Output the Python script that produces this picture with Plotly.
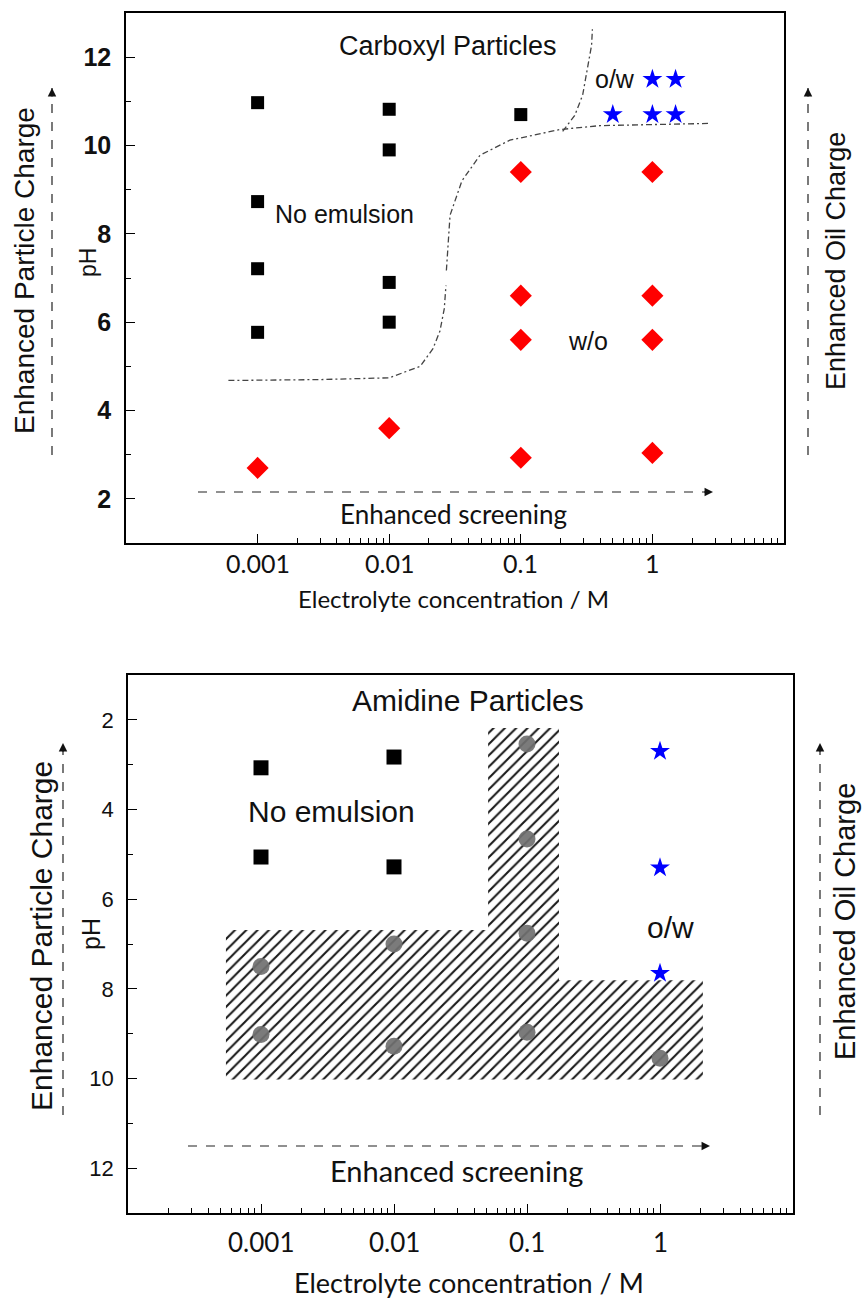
import math
import plotly.graph_objects as go

W, H = 862, 1300

# ---------------- data: Carboxyl particles (top) ----------------
carb_noem_x = [0.001, 0.001, 0.001, 0.001, 0.01, 0.01, 0.01, 0.01, 0.1]
carb_noem_ph = [10.97, 8.73, 7.21, 5.77, 10.82, 9.9, 6.9, 6.0, 10.7]

carb_wo_x = [0.001, 0.01, 0.1, 0.1, 0.1, 0.1, 1, 1, 1, 1]
carb_wo_ph = [2.7, 3.6, 9.4, 6.6, 5.6, 2.93, 9.4, 6.6, 5.6, 3.04]

carb_ow_x = [1, 1.5, 0.5, 1, 1.5]
carb_ow_ph = [11.5, 11.5, 10.7, 10.7, 10.7]

# boundary lines (dash-dot)
bound1_x = [0.0006, 0.003, 0.01, 0.0172, 0.0215, 0.0243, 0.0262, 0.027, None,
            0.0272, 0.029, 0.0357, 0.049, 0.0826, 0.197, 0.4, 1.0, 2.7]
bound1_ph = [4.68, 4.7, 4.74, 5.0, 5.4, 5.8, 6.3, 6.83, None,
             7.17, 8.42, 9.2, 9.78, 10.12, 10.36, 10.45, 10.48, 10.5]
bound2_x = [0.208, 0.257, 0.295, 0.322, 0.345, 0.35]
bound2_ph = [10.32, 10.68, 11.14, 11.77, 12.27, 12.63]

# ---------------- data: Amidine particles (bottom) ----------------
amid_noem_x = [0.001, 0.001, 0.01, 0.01]
amid_noem_ph = [3.07, 5.06, 2.83, 5.28]

amid_ow_x = [1, 1, 1]
amid_ow_ph = [2.7, 5.3, 7.65]

amid_mix_x = [0.001, 0.001, 0.01, 0.01, 0.1, 0.1, 0.1, 0.1, 1]
amid_mix_ph = [7.5, 9.02, 7.0, 9.28, 2.54, 4.66, 6.76, 8.97, 9.55]

hatch_x = [0.000545, 0.051, 0.051, 0.174, 0.174, 2.1, 2.1, 0.000545, 0.000545]
hatch_ph = [6.69, 6.69, 2.18, 2.18, 7.81, 7.81, 10.02, 10.02, 6.69]

major_x = [0.001, 0.01, 0.1, 1]
major_x_text = ["0.001", "0.01", "0.1", "1"]
ph_ticks = [2, 4, 6, 8, 10, 12]

minor_top_x = [m * d for d in [0.001, 0.01, 0.1, 1] for m in range(2, 10)]
minor_bot_x = [m * d for d in [0.0001, 0.001, 0.01, 0.1, 1] for m in range(2, 10)]
minor_ph = [3, 5, 7, 9, 11]

# ---------------- helpers ----------------
def px(x):
    return x / W

def py(y):
    return 1 - y / H

SANS = "Liberation Sans, Arial, sans-serif"
CAL = "Lato, Open Sans, sans-serif"
DASHDOT = "6px,3px,2px,3px"

fig = go.Figure()

# top traces
fig.add_trace(go.Scatter(x=bound1_x, y=bound1_ph, mode="lines", xaxis="x", yaxis="y",
                         line=dict(color="#444", width=1.3, dash=DASHDOT), connectgaps=False,
                         showlegend=False, hoverinfo="skip"))
fig.add_trace(go.Scatter(x=bound2_x, y=bound2_ph, mode="lines", xaxis="x", yaxis="y",
                         line=dict(color="#444", width=1.3, dash=DASHDOT),
                         showlegend=False, hoverinfo="skip"))
fig.add_trace(go.Scatter(x=carb_noem_x, y=carb_noem_ph, mode="markers", xaxis="x", yaxis="y",
                         marker=dict(symbol="square", size=13, color="black"), showlegend=False))
fig.add_trace(go.Scatter(x=carb_wo_x, y=carb_wo_ph, mode="markers", xaxis="x", yaxis="y",
                         marker=dict(symbol="diamond", size=17, color="#ff0000"), showlegend=False))
fig.add_trace(go.Scatter(x=carb_ow_x, y=carb_ow_ph, mode="markers", xaxis="x", yaxis="y",
                         marker=dict(symbol="star", size=15, color="#0000ff"), showlegend=False))

# bottom traces
fig.add_trace(go.Scatter(x=hatch_x, y=hatch_ph, mode="lines", xaxis="x2", yaxis="y2",
                         fill="toself", fillcolor="rgba(0,0,0,0)",
                         fillpattern=dict(shape="/", size=8, solidity=0.26, fgcolor="#000",
                                          fgopacity=0.9, bgcolor="rgba(255,255,255,0)"),
                         line=dict(width=0), showlegend=False, hoverinfo="skip"))
fig.add_trace(go.Scatter(x=amid_mix_x, y=amid_mix_ph, mode="markers", xaxis="x2", yaxis="y2",
                         marker=dict(symbol="circle", size=17, color="rgba(112,112,112,0.92)"),
                         showlegend=False))
fig.add_trace(go.Scatter(x=amid_noem_x, y=amid_noem_ph, mode="markers", xaxis="x2", yaxis="y2",
                         marker=dict(symbol="square", size=15, color="black"), showlegend=False))
fig.add_trace(go.Scatter(x=amid_ow_x, y=amid_ow_ph, mode="markers", xaxis="x2", yaxis="y2",
                         marker=dict(symbol="star", size=15, color="#0000ff"), showlegend=False))

axis_common = dict(showgrid=False, zeroline=False, showline=True, linecolor="black",
                   linewidth=1.6, mirror=True, ticks="inside", tickcolor="black",
                   ticklen=9, tickwidth=1.3)

fig.update_layout(
    width=W, height=H,
    margin=dict(l=0, r=0, t=0, b=0),
    paper_bgcolor="white", plot_bgcolor="white",
    xaxis=dict(axis_common, type="log", range=[-4, 1], domain=[px(126), px(784)],
               anchor="y", tickmode="array", tickvals=major_x, showticklabels=False,
               minor=dict(ticks="inside", ticklen=5, tickcolor="black", tickwidth=1.2,
                          tickmode="array", tickvals=minor_top_x)),
    yaxis=dict(axis_common, range=[1, 13], domain=[py(543), py(13)], anchor="x",
               tickmode="array", tickvals=ph_ticks,
               ticktext=["<b>%d</b>" % v for v in ph_ticks],
               tickfont=dict(family=SANS, size=25, color="#111"),
               ticklabelstandoff=8,
               minor=dict(ticks="inside", ticklen=5, tickcolor="black", tickwidth=1.2,
                          tickmode="array", tickvals=minor_ph)),
    xaxis2=dict(axis_common, type="log", range=[-4, 1], domain=[px(128), px(793)],
                anchor="y2", tickmode="array", tickvals=major_x, showticklabels=False,
                minor=dict(ticks="inside", ticklen=5, tickcolor="black", tickwidth=1.2,
                           tickmode="array", tickvals=minor_bot_x)),
    yaxis2=dict(axis_common, range=[13, 1], domain=[py(1213), py(675)], anchor="x2",
                tickmode="array", tickvals=ph_ticks, ticktext=[str(v) for v in ph_ticks],
                tickfont=dict(family=SANS, size=22, color="#111"),
                ticklabelstandoff=8,
                minor=dict(ticks="inside", ticklen=5, tickcolor="black", tickwidth=1.2,
                           tickmode="array", tickvals=minor_ph)),
)

ann = []
shapes = []

def text(x, y, s, size, family=SANS, angle=0, xanchor="center"):
    ann.append(dict(x=px(x), y=py(y), xref="paper", yref="paper", text=s, showarrow=False,
                    font=dict(family=family, size=size, color="#111"), textangle=angle,
                    xanchor=xanchor, yanchor="middle"))

def xticklabels(xref, ypix, size):
    for v, s in zip(major_x, major_x_text):
        ann.append(dict(x=math.log10(v), y=py(ypix), xref=xref, yref="paper", text=s,
                        showarrow=False, font=dict(family=CAL, size=size, color="#111"),
                        xanchor="center", yanchor="middle"))

def darrow(x0, y0, x1, y1):
    # dashed line with arrowhead at (x1, y1)
    shapes.append(dict(type="line", xref="paper", yref="paper", x0=px(x0), y0=py(y0),
                       x1=px(x1), y1=py(y1), line=dict(color="#222", width=1.2, dash="dash")))
    dx = x1 - x0
    dy = y1 - y0
    L = (dx * dx + dy * dy) ** 0.5
    ann.append(dict(x=px(x1), y=py(y1), xref="paper", yref="paper", text="",
                    showarrow=True, arrowhead=2, arrowsize=1.3, arrowwidth=1.3,
                    arrowcolor="#111", ax=-dx / L * 10, ay=-dy / L * 10))

# top panel texts
xticklabels("x", 563, 25)
text(448, 46, "Carboxyl Particles", 27)
text(273, 214, "No emulsion", 25, xanchor="left")
text(588, 341, "w/o", 25)
text(615, 79, "o/w", 25)
text(453, 514, "Enhanced screening", 26, family=CAL)
text(454, 598, "Electrolyte concentration / M", 24, family=CAL)
text(88, 263, "pH", 23, angle=-90)
text(24, 271, "Enhanced Particle Charge", 28, angle=-90)
text(836, 261, "Enhanced Oil Charge", 27, angle=-90)
darrow(198, 492, 713, 492)
darrow(52, 455, 52, 88)
darrow(808, 455, 808, 88)

# bottom panel texts
xticklabels("x2", 1242, 26)
text(468, 701, "Amidine Particles", 30)
text(331, 811, "No emulsion", 30)
text(670, 927, "o/w", 30)
text(456, 1170, "Enhanced screening", 29, family=CAL)
text(469, 1282, "Electrolyte concentration / M", 27, family=CAL)
text(91, 934, "pH", 25, angle=-90)
text(41, 936, "Enhanced Particle Charge", 30, angle=-90)
text(845, 922, "Enhanced Oil Charge", 29, angle=-90)
darrow(188, 1146, 710, 1146)
darrow(63, 1115, 63, 743)
darrow(820, 1115, 820, 743)

fig.update_layout(annotations=ann, shapes=shapes)

fig.write_html("out.html")
